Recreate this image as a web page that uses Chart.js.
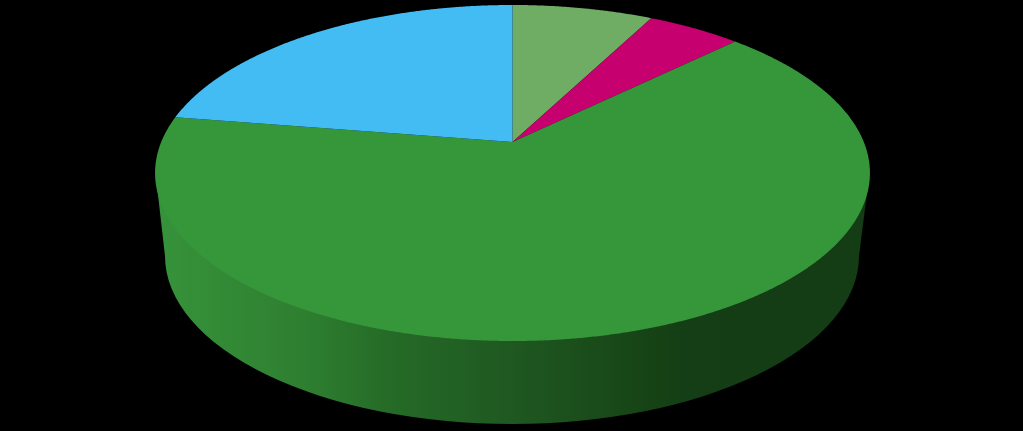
<!DOCTYPE html>
<html>
<head>
<meta charset="utf-8">
<style>
html,body{margin:0;padding:0;background:#000;overflow:hidden}
canvas{display:block}
</style>
<script src="https://cdn.jsdelivr.net/npm/chart.js@4"></script>
</head>
<body>
<canvas id="c" width="1023" height="431"></canvas>
<script>
const categories = ['Slice 1', 'Slice 2', 'Slice 3', 'Slice 4'];
const values = [7.6, 5.1, 64.8, 22.5];
const colors = ['#70AD64', '#C7006F', '#36963A', '#43BBF3'];

// Perspective projection of the unit disc onto the page
const view = { cx: 512.5, apexY: 142, a: 136.1, p: -0.1845, c: 351.3 };
const base = { cx: 512, cy: 256, rx: 347, ry: 168 };
const sideStops = [[0.0,'#36923A'],[0.2,'#2E7F30'],[0.33,'#256A27'],[0.5,'#1F5821'],[0.68,'#174516'],[0.75,'#143E15'],[1,'#143C15']];

function project(t) {
  const u = Math.cos(t), v = Math.sin(t), w = 1 + view.p * v;
  return [view.cx + view.c * u / w, (view.apexY + view.a * v) / w];
}

const perspectivePie = {
  id: 'perspectivePie',
  beforeDatasetsDraw(chart) {
    const ctx = chart.ctx;
    // side wall
    const g = ctx.createLinearGradient(base.cx - base.rx, 0, base.cx + base.rx, 0);
    sideStops.forEach(s => g.addColorStop(s[0], s[1]));
    ctx.save();
    ctx.fillStyle = g;
    ctx.beginPath();
    ctx.moveTo(view.cx - 357, 173);
    ctx.lineTo(base.cx - base.rx, base.cy);
    ctx.ellipse(base.cx, base.cy, base.rx, base.ry, 0, Math.PI, 0, true);
    ctx.lineTo(view.cx + 357, 173);
    ctx.closePath();
    ctx.fill();
    // top face
    const arcs = chart.getDatasetMeta(0).data;
    arcs.forEach(arc => {
      const s = arc.startAngle, e = arc.endAngle;
      const n = Math.max(2, Math.ceil((e - s) / 0.005));
      ctx.beginPath();
      ctx.moveTo(view.cx, view.apexY);
      for (let i = 0; i <= n; i++) {
        const q = project(s + (e - s) * i / n);
        ctx.lineTo(q[0], q[1]);
      }
      ctx.closePath();
      ctx.fillStyle = arc.options.backgroundColor;
      ctx.fill();
    });
    ctx.restore();
    return false;
  }
};

new Chart(document.getElementById('c'), {
  type: 'pie',
  data: { labels: categories, datasets: [{ data: values, backgroundColor: colors, borderWidth: 0 }] },
  options: {
    responsive: false,
    animation: false,
    plugins: { legend: { display: false }, tooltip: { enabled: false } }
  },
  plugins: [perspectivePie]
});
</script>
</body>
</html>
